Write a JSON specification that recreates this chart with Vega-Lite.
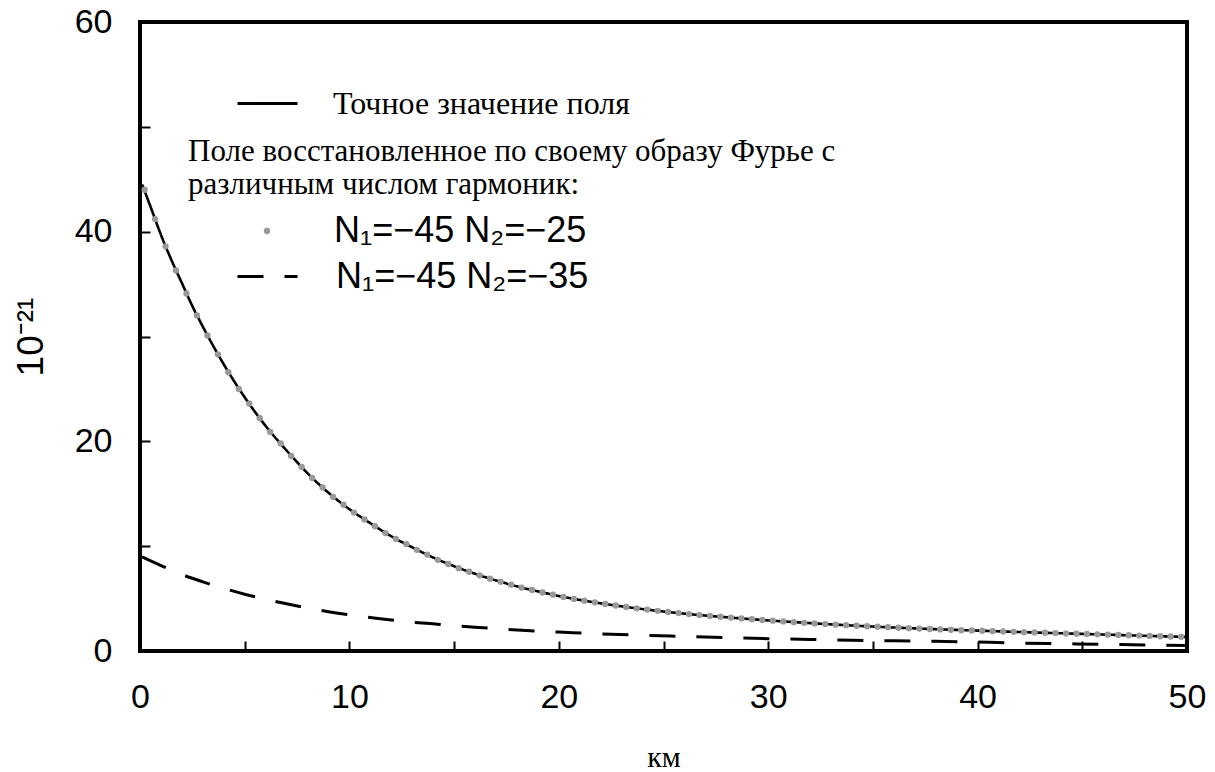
{
  "$schema": "https://vega.github.io/schema/vega-lite/v6.json",
  "width": 1047,
  "height": 629,
  "autosize": "none",
  "padding": {"left": 140, "top": 22, "right": 28, "bottom": 121},
  "background": "white",
  "view": {"stroke": "black", "strokeWidth": 4},
  "config": {
    "axis": {"domain": false, "grid": false, "ticks": true, "tickSize": -10, "tickWidth": 2, "tickColor": "black", "labelFont": "Liberation Sans", "labelFontSize": 34, "labelColor": "black", "labelFlush": false, "labelOverlap": false, "titleColor": "black", "titleFontWeight": "normal"},
    "legend": {"padding": 0, "labelFont": "Liberation Sans", "labelFontSize": 36, "labelColor": "black", "titleFont": "Liberation Serif", "titleFontSize": 31, "titleFontWeight": "normal", "titleColor": "black", "titleLimit": 0, "labelLimit": 0, "rowPadding": 0}
  },
  "datasets": {
    "exact": [
      {"km": 0.1, "v": 44.5, "s": "e"}, {"km": 0.5, "v": 42.4, "s": "e"}, {"km": 1, "v": 39.7, "s": "e"}, {"km": 1.5, "v": 37.3, "s": "e"},
      {"km": 2, "v": 35.1, "s": "e"}, {"km": 2.5, "v": 32.9, "s": "e"}, {"km": 3, "v": 30.94, "s": "e"}, {"km": 4, "v": 27.35, "s": "e"},
      {"km": 5, "v": 24.2, "s": "e"}, {"km": 6, "v": 21.47, "s": "e"}, {"km": 7, "v": 19.13, "s": "e"}, {"km": 8, "v": 16.96, "s": "e"},
      {"km": 9, "v": 15.1, "s": "e"}, {"km": 10, "v": 13.53, "s": "e"}, {"km": 11, "v": 12.19, "s": "e"}, {"km": 12, "v": 10.94, "s": "e"},
      {"km": 13, "v": 9.89, "s": "e"}, {"km": 14, "v": 8.92, "s": "e"}, {"km": 15, "v": 8.09, "s": "e"}, {"km": 16, "v": 7.37, "s": "e"},
      {"km": 17, "v": 6.73, "s": "e"}, {"km": 18, "v": 6.17, "s": "e"}, {"km": 19, "v": 5.69, "s": "e"}, {"km": 20, "v": 5.25, "s": "e"},
      {"km": 22, "v": 4.55, "s": "e"}, {"km": 24, "v": 4.0, "s": "e"}, {"km": 26, "v": 3.56, "s": "e"}, {"km": 28, "v": 3.22, "s": "e"},
      {"km": 30, "v": 2.92, "s": "e"}, {"km": 32, "v": 2.66, "s": "e"}, {"km": 34, "v": 2.43, "s": "e"}, {"km": 36, "v": 2.24, "s": "e"},
      {"km": 38, "v": 2.08, "s": "e"}, {"km": 40, "v": 1.945, "s": "e"}, {"km": 42, "v": 1.81, "s": "e"}, {"km": 44, "v": 1.69, "s": "e"},
      {"km": 46, "v": 1.57, "s": "e"}, {"km": 48, "v": 1.45, "s": "e"}, {"km": 50, "v": 1.34, "s": "e"}
    ],
    "dots": [
      {"km": 0.22, "v": 44.0, "s": "a"}, {"km": 0.72, "v": 41.2, "s": "a"}, {"km": 1.22, "v": 38.6, "s": "a"}, {"km": 1.72, "v": 36.3, "s": "a"},
      {"km": 2.22, "v": 34.1, "s": "a"}, {"km": 2.72, "v": 32.0, "s": "a"}, {"km": 3.22, "v": 30.1, "s": "a"}, {"km": 3.72, "v": 28.3, "s": "a"},
      {"km": 4.22, "v": 26.6, "s": "a"}, {"km": 4.72, "v": 25.0, "s": "a"}, {"km": 5.22, "v": 23.6, "s": "a"}, {"km": 5.72, "v": 22.2, "s": "a"},
      {"km": 6.22, "v": 20.9, "s": "a"}, {"km": 6.72, "v": 19.8, "s": "a"}, {"km": 7.22, "v": 18.6, "s": "a"}, {"km": 7.72, "v": 17.55, "s": "a"},
      {"km": 8.22, "v": 16.5, "s": "a"}, {"km": 8.72, "v": 15.6, "s": "a"}, {"km": 9.22, "v": 14.7, "s": "a"}, {"km": 9.72, "v": 13.95, "s": "a"},
      {"km": 10.22, "v": 13.2, "s": "a"}, {"km": 10.72, "v": 12.55, "s": "a"}, {"km": 11.22, "v": 11.9, "s": "a"}, {"km": 11.72, "v": 11.25, "s": "a"},
      {"km": 12.22, "v": 10.7, "s": "a"}, {"km": 12.72, "v": 10.2, "s": "a"}, {"km": 13.22, "v": 9.65, "s": "a"}, {"km": 13.72, "v": 9.2, "s": "a"},
      {"km": 14.22, "v": 8.7, "s": "a"}, {"km": 14.72, "v": 8.3, "s": "a"}, {"km": 15.22, "v": 7.9, "s": "a"}, {"km": 15.72, "v": 7.56, "s": "a"},
      {"km": 16.22, "v": 7.22, "s": "a"}, {"km": 16.72, "v": 6.9, "s": "a"}, {"km": 17.22, "v": 6.6, "s": "a"}, {"km": 17.72, "v": 6.32, "s": "a"},
      {"km": 18.22, "v": 6.05, "s": "a"}, {"km": 18.72, "v": 5.82, "s": "a"}, {"km": 19.22, "v": 5.58, "s": "a"}, {"km": 19.72, "v": 5.37, "s": "a"},
      {"km": 20.22, "v": 5.16, "s": "a"}, {"km": 20.72, "v": 4.97, "s": "a"}, {"km": 21.22, "v": 4.8, "s": "a"}, {"km": 21.72, "v": 4.64, "s": "a"},
      {"km": 22.22, "v": 4.49, "s": "a"}, {"km": 22.72, "v": 4.34, "s": "a"}, {"km": 23.22, "v": 4.2, "s": "a"}, {"km": 23.72, "v": 4.07, "s": "a"},
      {"km": 24.22, "v": 3.95, "s": "a"}, {"km": 24.72, "v": 3.83, "s": "a"}, {"km": 25.22, "v": 3.72, "s": "a"}, {"km": 25.72, "v": 3.62, "s": "a"},
      {"km": 26.22, "v": 3.52, "s": "a"}, {"km": 26.72, "v": 3.43, "s": "a"}, {"km": 27.22, "v": 3.35, "s": "a"}, {"km": 27.72, "v": 3.27, "s": "a"},
      {"km": 28.22, "v": 3.19, "s": "a"}, {"km": 28.72, "v": 3.11, "s": "a"}, {"km": 29.22, "v": 3.03, "s": "a"}, {"km": 29.72, "v": 2.96, "s": "a"},
      {"km": 30.22, "v": 2.89, "s": "a"}, {"km": 30.72, "v": 2.82, "s": "a"}, {"km": 31.22, "v": 2.75, "s": "a"}, {"km": 31.72, "v": 2.69, "s": "a"},
      {"km": 32.22, "v": 2.63, "s": "a"}, {"km": 32.72, "v": 2.57, "s": "a"}, {"km": 33.22, "v": 2.51, "s": "a"}, {"km": 33.72, "v": 2.46, "s": "a"},
      {"km": 34.22, "v": 2.41, "s": "a"}, {"km": 34.72, "v": 2.36, "s": "a"}, {"km": 35.22, "v": 2.31, "s": "a"}, {"km": 35.72, "v": 2.27, "s": "a"},
      {"km": 36.22, "v": 2.22, "s": "a"}, {"km": 36.72, "v": 2.18, "s": "a"}, {"km": 37.22, "v": 2.14, "s": "a"}, {"km": 37.72, "v": 2.1, "s": "a"},
      {"km": 38.22, "v": 2.06, "s": "a"}, {"km": 38.72, "v": 2.03, "s": "a"}, {"km": 39.22, "v": 1.99, "s": "a"}, {"km": 39.72, "v": 1.96, "s": "a"},
      {"km": 40.22, "v": 1.93, "s": "a"}, {"km": 40.72, "v": 1.89, "s": "a"}, {"km": 41.22, "v": 1.86, "s": "a"}, {"km": 41.72, "v": 1.83, "s": "a"},
      {"km": 42.22, "v": 1.8, "s": "a"}, {"km": 42.72, "v": 1.77, "s": "a"}, {"km": 43.22, "v": 1.74, "s": "a"}, {"km": 43.72, "v": 1.71, "s": "a"},
      {"km": 44.22, "v": 1.68, "s": "a"}, {"km": 44.72, "v": 1.65, "s": "a"}, {"km": 45.22, "v": 1.62, "s": "a"}, {"km": 45.72, "v": 1.59, "s": "a"},
      {"km": 46.22, "v": 1.56, "s": "a"}, {"km": 46.72, "v": 1.53, "s": "a"}, {"km": 47.22, "v": 1.5, "s": "a"}, {"km": 47.72, "v": 1.47, "s": "a"},
      {"km": 48.22, "v": 1.44, "s": "a"}, {"km": 48.72, "v": 1.41, "s": "a"}, {"km": 49.22, "v": 1.38, "s": "a"}, {"km": 49.72, "v": 1.35, "s": "a"}
    ],
    "dashed": [
      {"km": 0.1, "v": 8.98, "s": "b"}, {"km": 1, "v": 8.15, "s": "b"}, {"km": 2, "v": 7.3, "s": "b"}, {"km": 3, "v": 6.6, "s": "b"},
      {"km": 4, "v": 5.97, "s": "b"}, {"km": 5, "v": 5.42, "s": "b"}, {"km": 6, "v": 4.94, "s": "b"}, {"km": 7, "v": 4.5, "s": "b"},
      {"km": 8, "v": 4.1, "s": "b"}, {"km": 9, "v": 3.75, "s": "b"}, {"km": 10, "v": 3.45, "s": "b"}, {"km": 11, "v": 3.2, "s": "b"},
      {"km": 12, "v": 2.96, "s": "b"}, {"km": 13, "v": 2.75, "s": "b"}, {"km": 14, "v": 2.59, "s": "b"}, {"km": 15, "v": 2.43, "s": "b"},
      {"km": 16, "v": 2.27, "s": "b"}, {"km": 17, "v": 2.13, "s": "b"}, {"km": 18, "v": 2.01, "s": "b"}, {"km": 19, "v": 1.9, "s": "b"},
      {"km": 20, "v": 1.81, "s": "b"}, {"km": 22, "v": 1.63, "s": "b"}, {"km": 24, "v": 1.5, "s": "b"}, {"km": 26, "v": 1.39, "s": "b"},
      {"km": 28, "v": 1.28, "s": "b"}, {"km": 30, "v": 1.18, "s": "b"}, {"km": 32, "v": 1.1, "s": "b"}, {"km": 34, "v": 1.03, "s": "b"},
      {"km": 36, "v": 0.97, "s": "b"}, {"km": 38, "v": 0.92, "s": "b"}, {"km": 40, "v": 0.86, "s": "b"}, {"km": 42, "v": 0.76, "s": "b"},
      {"km": 44, "v": 0.7, "s": "b"}, {"km": 46, "v": 0.64, "s": "b"}, {"km": 48, "v": 0.57, "s": "b"}, {"km": 50, "v": 0.53, "s": "b"}
    ]
  },
  "encoding": {
    "x": {"field": "km", "type": "quantitative", "scale": {"domain": [0, 50], "nice": false, "zero": false},
      "axis": {"values": [0, 5, 10, 15, 20, 25, 30, 35, 40, 45, 50], "labelExpr": "datum.value % 10 === 0 ? datum.label : ''", "labelPadding": 39, "title": "км", "titleFont": "Liberation Serif", "titleFontSize": 30, "titlePadding": 28}},
    "y": {"field": "v", "type": "quantitative", "scale": {"domain": [0, 60], "nice": false},
      "axis": {"values": [0, 10, 20, 30, 40, 50, 60], "labelExpr": "datum.value % 20 === 0 ? datum.label : ''", "labelPadding": 38, "title": "10⁻²¹", "titleFont": "Liberation Sans", "titleFontSize": 37, "titlePadding": 24}}
  },
  "layer": [
    {
      "data": {"name": "exact"},
      "mark": {"type": "line", "color": "black", "strokeWidth": 2.6, "interpolate": "monotone"},
      "encoding": {
        "strokeDash": {"field": "s", "type": "nominal", "scale": {"domain": ["e"], "range": [[1, 0]]},
          "legend": {"orient": "none", "legendX": 96, "legendY": 50, "title": null, "symbolType": "stroke", "symbolSize": 3600, "symbolStrokeWidth": 3, "symbolStrokeColor": "black", "labelFont": "Liberation Serif", "labelFontSize": 32, "labelOffset": 34, "labelExpr": "'Точное значение поля'"}}
      }
    },
    {
      "data": {"name": "dashed"},
      "mark": {"type": "line", "color": "black", "strokeWidth": 3, "interpolate": "monotone", "strokeCap": "butt"},
      "encoding": {
        "strokeDash": {"field": "s", "type": "nominal", "scale": {"domain": ["b"], "range": [[26, 21]]},
          "legend": {"orient": "none", "legendX": 96, "legendY": 223, "title": null, "symbolType": "stroke", "symbolSize": 3600, "symbolStrokeWidth": 3, "symbolStrokeColor": "black", "labelOffset": 37, "labelExpr": "'N₁=−45 N₂=−35'"}}
      }
    },
    {
      "data": {"name": "dots"},
      "mark": {"type": "point", "filled": true, "size": 40, "opacity": 1},
      "encoding": {
        "color": {"field": "s", "type": "nominal", "scale": {"domain": ["a"], "range": ["#999999"]},
          "legend": {"orient": "none", "legendX": 48, "legendY": 115, "title": ["Поле восстановленное по своему образу Фурье с", "различным числом гармоник:"], "titleLineHeight": 33, "titlePadding": 12, "symbolType": "circle", "symbolSize": 40, "symbolOffset": 61, "labelOffset": 49, "labelExpr": "'N₁=−45 N₂=−25'"}}
      }
    }
  ],
  "resolve": {"scale": {"strokeDash": "independent", "color": "independent"}, "legend": {"strokeDash": "independent", "color": "independent"}}
}
